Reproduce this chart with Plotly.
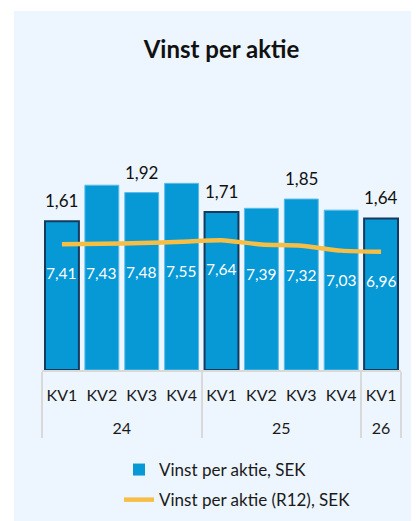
import plotly.graph_objects as go

years = ["24", "24", "24", "24", "25", "25", "25", "25", "26"]
quarters = ["KV1", "KV2", "KV3", "KV4", "KV1", "KV2", "KV3", "KV4", "KV1"]
eps = [1.61, 2.00, 1.92, 2.02, 1.71, 1.75, 1.85, 1.73, 1.64]
eps_labels = ["1,61", "", "1,92", "", "1,71", "", "1,85", "", "1,64"]
r12 = [7.41, 7.43, 7.48, 7.55, 7.64, 7.39, 7.32, 7.03, 6.96]
r12_labels = ["7,41", "7,43", "7,48", "7,55", "7,64", "7,39", "7,32", "7,03", "6,96"]

FONT = "Lato"
BLUE = "#0798D6"
DARK = "#143A5E"
LIGHT = "#5CBCE8"
YELLOW = "#F6BE45"
PANEL = "#EDF5FE"

OFF = 8  # page body margin
W, H = 419 - OFF, 521 - OFF
ML, MR, MT, MB = 42 - OFF, 18, 139 - OFF, 151
PW, PH = W - ML - MR, H - MT - MB

outline_col = [DARK if q == "KV1" else LIGHT for q in quarters]
outline_w = [2 if q == "KV1" else 1 for q in quarters]
quarters_disp = [q + "<br><span style='font-size:21px'> </span>" for q in quarters]

fig = go.Figure()
fig.add_trace(go.Bar(
    x=[years, quarters_disp], y=eps, name="Vinst per aktie, SEK", showlegend=False,
    marker=dict(color=BLUE, line=dict(color=outline_col, width=outline_w)),
    hoverinfo="skip",
))
fig.add_trace(go.Bar(
    x=[[None], [None]], y=[None], name="Vinst per aktie, SEK", showlegend=True,
    legendgroup="a",
    marker=dict(color=BLUE, line=dict(width=0)), hoverinfo="skip",
))
fig.add_trace(go.Scatter(
    x=[years, quarters_disp], y=r12, name="Vinst per aktie (R12), SEK", legendgroup="b",
    mode="lines", line=dict(color=YELLOW, width=4.5, shape="spline", smoothing=0.6),
    yaxis="y2", hoverinfo="skip",
))

annotations = []
for i, (v, t) in enumerate(zip(eps, eps_labels)):
    if t:
        annotations.append(dict(x=i, y=v, xref="x", yref="y", text=t, showarrow=False,
                                yanchor="bottom", yshift=8,
                                font=dict(family=FONT, size=17, color="#111111")))
for i, (v, t) in enumerate(zip(r12, r12_labels)):
    annotations.append(dict(x=i, y=v, xref="x", yref="y2", text=t, showarrow=False,
                            yanchor="middle", yshift=-29,
                            font=dict(family=FONT, size=15.5, color="white")))

fig.update_layout(
    width=W, height=H,
    margin=dict(l=ML, r=MR, t=MT, b=MB, pad=0, autoexpand=False),
    paper_bgcolor="white", plot_bgcolor="rgba(0,0,0,0)",
    font=dict(family=FONT, size=16, color="#1A1A1A"),
    title=dict(text="<b>Vinst per aktie</b>", x=0.5, xref="paper", xanchor="center",
               y=1 - (50 - OFF) / H, yanchor="middle", yref="container",
               font=dict(family=FONT, size=24, color="#111111")),
    bargap=0.15,
    showlegend=True,
    legend=dict(orientation="v", x=0.2145, xanchor="left", xref="paper",
                y=1 - 444 / H, yanchor="top", yref="container",
                bgcolor="rgba(0,0,0,0)", font=dict(family=FONT, size=17, color="#1A1A1A"),
                tracegroupgap=5),
    annotations=annotations,
    shapes=[dict(type="rect", xref="paper", yref="paper", layer="below",
                 x0=(14 - OFF - ML) / PW, x1=1 + (MR + 5) / PW,
                 y0=-(MB + 5) / PH, y1=(PH + MT - (11 - OFF)) / PH,
                 fillcolor=PANEL, line=dict(width=0))],
)
fig.update_xaxes(type="multicategory", showline=True, linecolor="#D9D9D9", linewidth=2,
                 showdividers=True, dividercolor="#D9D9D9", dividerwidth=2, tickangle=0,
                 automargin=False, ticklabelstandoff=10,
                 showgrid=False, ticks="", tickfont=dict(family=FONT, size=16, color="#1A1A1A"))
fig.update_yaxes(range=[0, 2.5], visible=False, showgrid=False)
fig.update_layout(yaxis2=dict(overlaying="y", range=[0, 2.5 * 92.5 / 17], visible=False,
                              showgrid=False))

fig.write_html("out.html")
